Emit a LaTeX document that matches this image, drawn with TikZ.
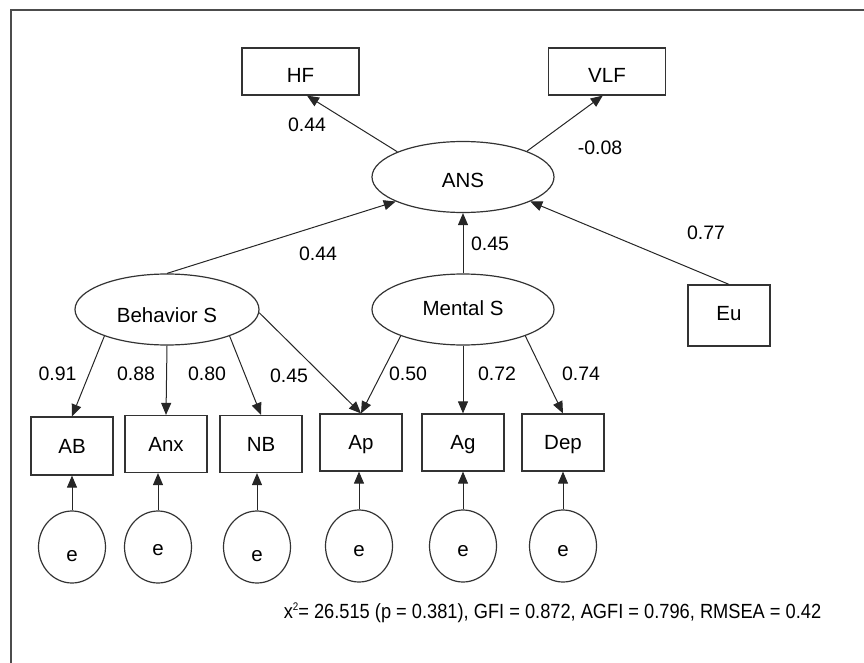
\documentclass[tikz,border=0pt]{standalone}
\usepackage{fontspec}
\setmainfont{Liberation Sans}
\usepackage{tikz}
\usetikzlibrary{shapes.geometric,arrows.meta}

\begin{document}
\begin{tikzpicture}[x=1pt,y=-1pt,
        font=\fontsize{20.5}{24}\selectfont,
        obs/.style={draw=black!80, line width=1.2pt, rectangle, minimum width=82pt,
          minimum height=57pt, inner sep=2pt, text height=14.5pt, text depth=0pt},
        lat/.style={draw=black!80, line width=1.2pt, ellipse, minimum width=182pt,
          minimum height=71pt, inner sep=1pt, text height=14.5pt, text depth=0pt},
        err/.style={draw=black!80, line width=1.2pt, ellipse, minimum width=67pt,
          minimum height=72pt, inner sep=1pt, text depth=0pt},
        arr/.style={draw=black!85, line width=1pt, -{Triangle[length=12pt,width=10pt]}},
        coef/.style={font=\fontsize{19.5}{23}\selectfont, inner sep=0pt}]
        \useasboundingbox (0,0) rectangle (864,663);
        \draw[line width=2pt, black!70] (10.5,663) -- (10.5,10.5) -- (864,10.5);
        \node[obs, minimum width=117pt, minimum height=47pt, text height=22.5pt] (hf) at (300.5,71.5) {HF};
        \node[obs, minimum width=117pt, minimum height=47pt, text height=22.5pt] (vlf) at (607,71.5) {VLF};
        \node[lat, text height=20.5pt] (ans) at (463,177) {ANS};
        \node[lat, minimum width=184pt, text height=26.5pt] (bs) at (167,309.5) {Behavior S};
        \node[lat, text height=12.5pt] (ms) at (463,309.5) {Mental S};
        \node[obs, minimum height=61pt, text height=10.5pt] (eu) at (729,315.5) {Eu};
        \node[obs, minimum height=58pt] (ab) at (72,446) {AB};
        \node[obs] (anx) at (166,444) {Anx};
        \node[obs] (nb) at (261,444) {NB};
        \node[obs] (ap) at (361,442.5) {Ap};
        \node[obs] (ag) at (463,442.5) {Ag};
        \node[obs] (dep) at (563,442.5) {Dep};
        \draw[arr] (ans.159) -- (hf.-75);
        \draw[arr] (ans.22) -- (vlf.-100);
        \draw[arr] (bs.north) -- (ans.200);
        \draw[arr] (ms.north) -- (ans.south);
        \draw[arr] (eu.north) -- (ans.-20);
        \draw[arr] (bs.203) -- (ab.north);
        \draw[arr] (bs.south) -- (anx.north);
        \draw[arr] (bs.-23) -- (nb.north);
        \draw[arr] (bs.-2) -- (ap.north);
        \draw[arr] (ms.203) -- (ap.north);
        \draw[arr] (ms.south) -- (ag.north);
        \draw[arr] (ms.-23) -- (dep.north);
        \node[coef] (c1) at (307,125) {0.44};
        \node[coef] (c2) at (600,148) {-0.08};
        \node[coef] (c3) at (318,254) {0.44};
        \node[coef] (c4) at (490,244) {0.45};
        \node[coef] (c5) at (706,233) {0.77};
        \node[coef] (c6) at (57.5,374) {0.91};
        \node[coef] (c7) at (136,374) {0.88};
        \node[coef] (c8) at (207,374) {0.80};
        \node[coef] (c9) at (289,376) {0.45};
        \node[coef] (c10) at (408,374) {0.50};
        \node[coef] (c11) at (497,374) {0.72};
        \node[coef] (c12) at (581,374) {0.74};
        \foreach \n/\x/\y/\b/\h in {1/72/547/ab/28, 2/158/547/anx/17, 3/257/547/nb/28,
          4/359/546/ap/20, 5/463/546/ag/20, 6/563/546/dep/20}{
          \node[err, text height=\h pt] (e\n) at (\x,\y) {e};
          \draw[arr] (e\n.north) -- (e\n.north |- \b.south);};
        \node[anchor=base, inner sep=0pt] (fit) at (552.5,618)
          {\scalebox{0.89}[1]{x\raisebox{8pt}{\fontsize{11}{11}\selectfont 2}= 26.515 (p = 0.381), GFI = 0.872, AGFI = 0.796, RMSEA = 0.42}};
      \end{tikzpicture}
\end{document}
